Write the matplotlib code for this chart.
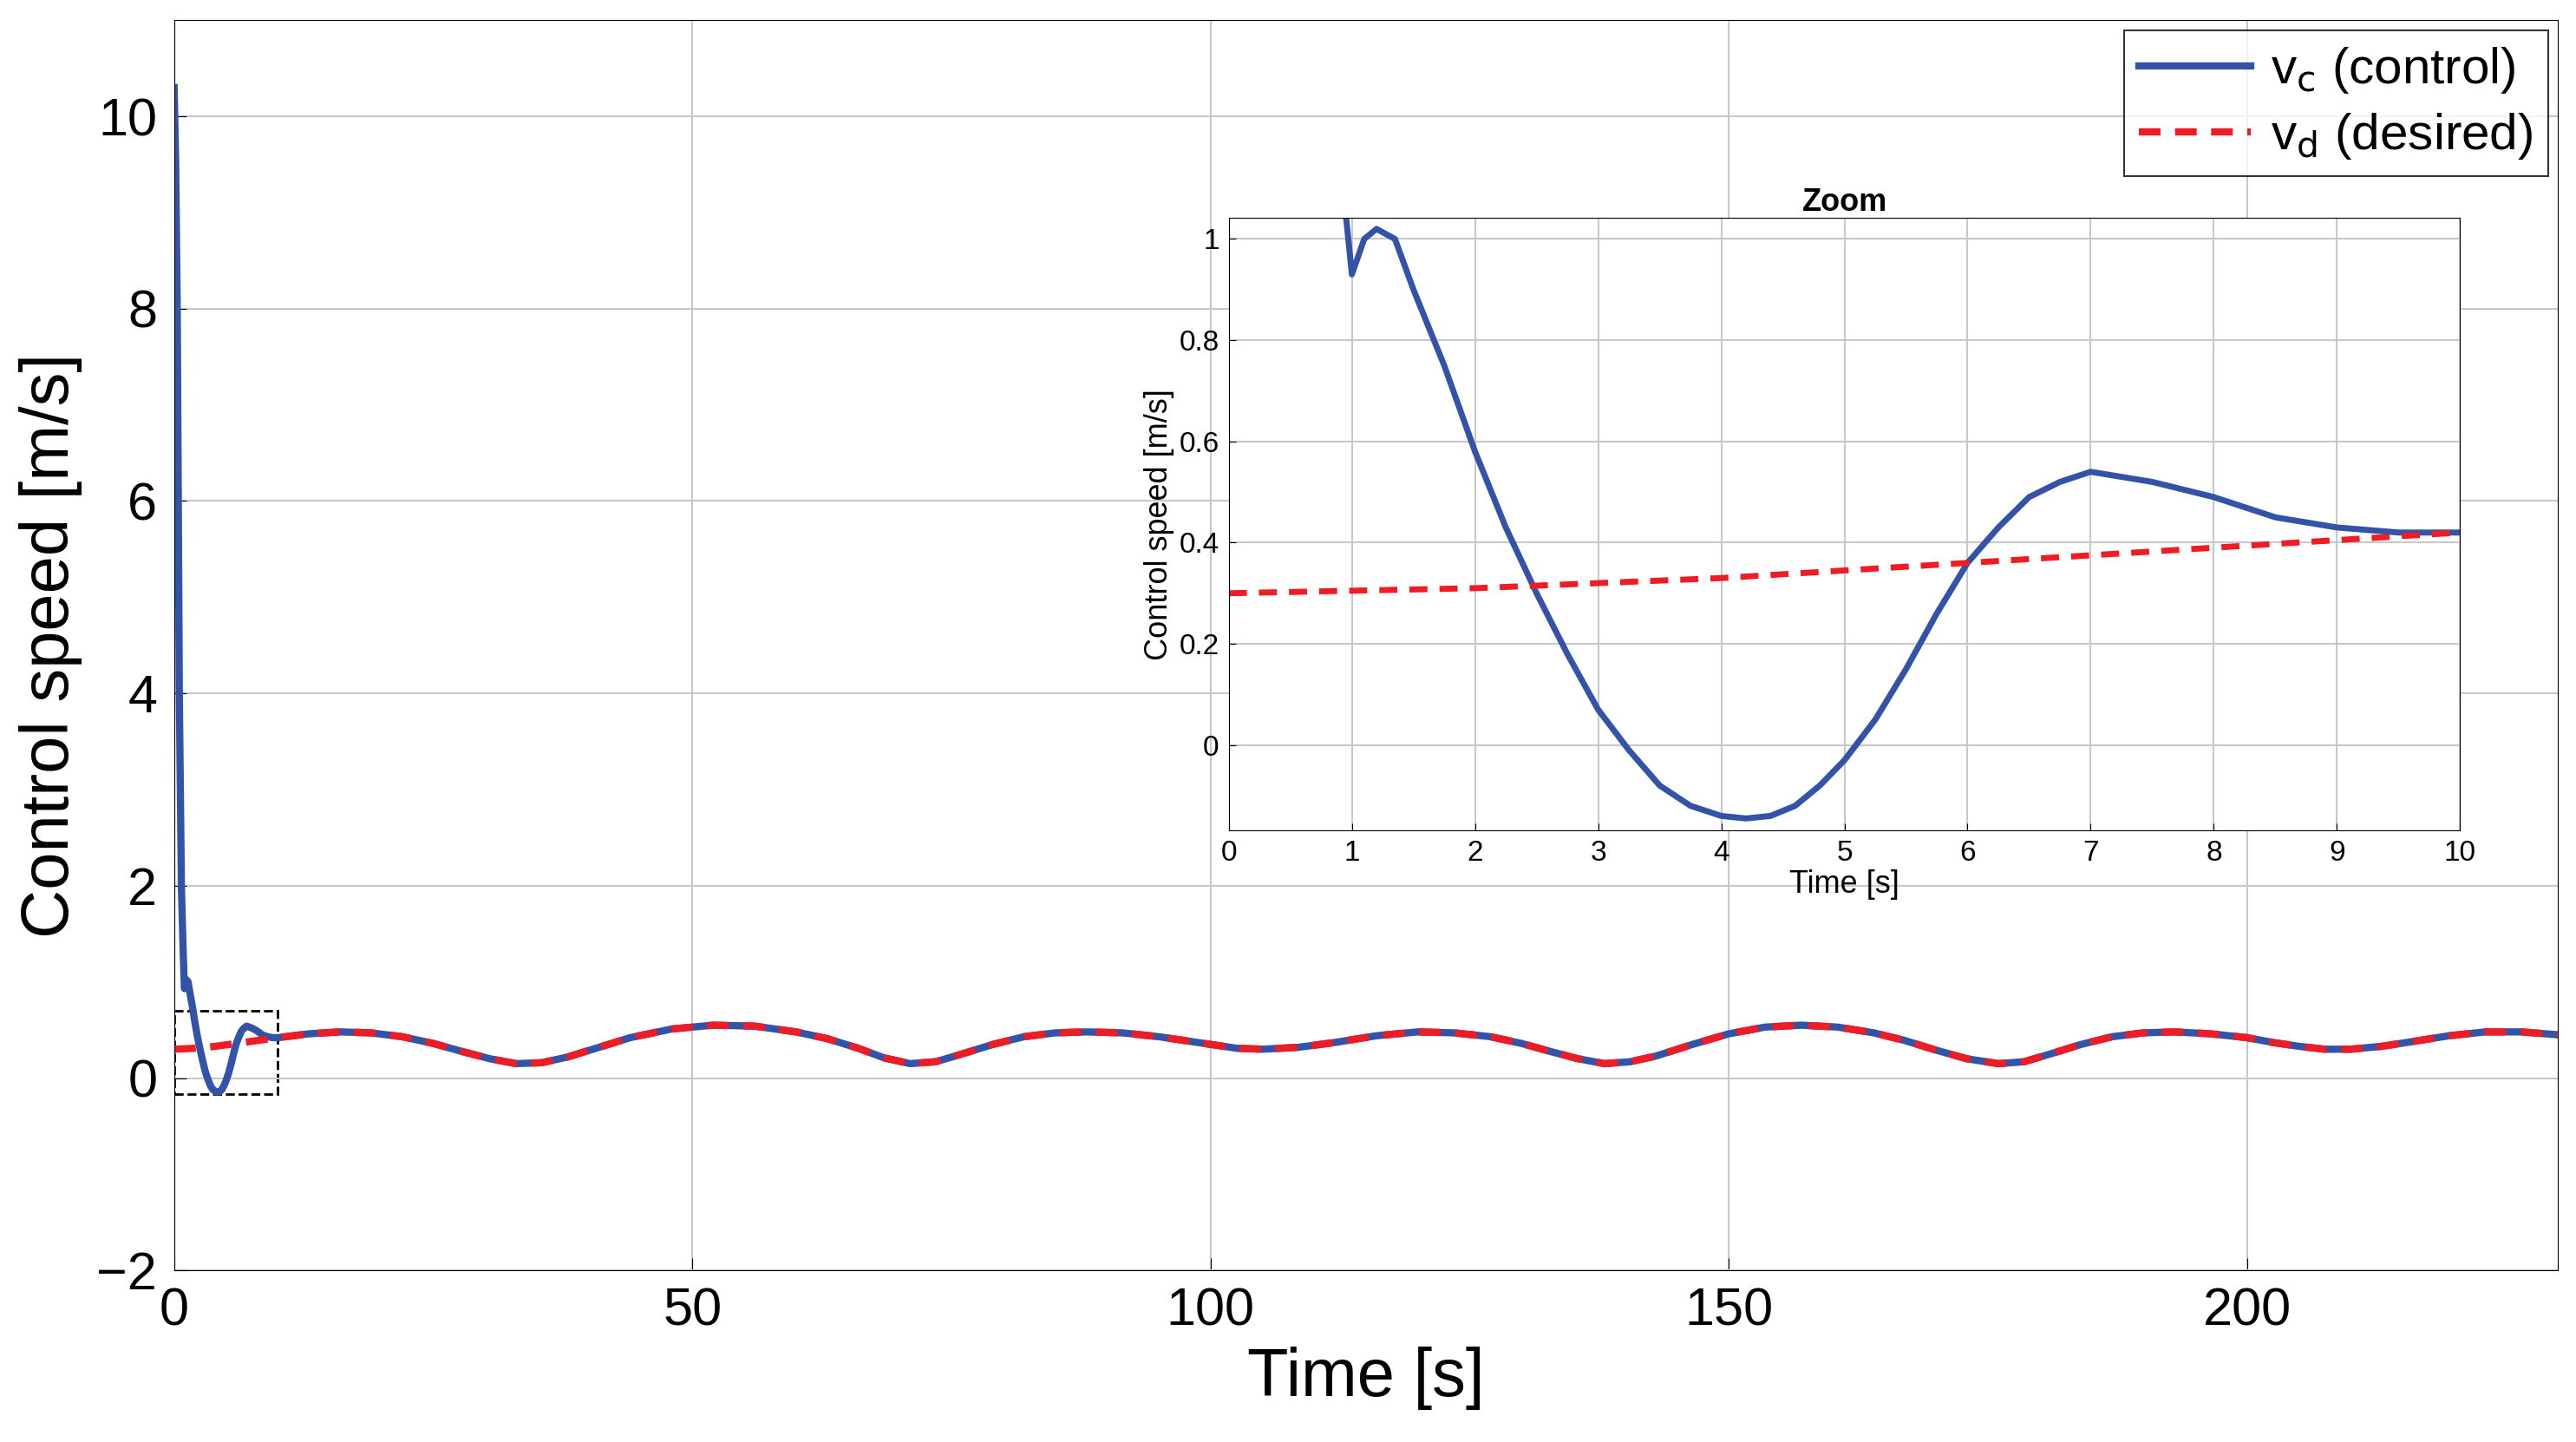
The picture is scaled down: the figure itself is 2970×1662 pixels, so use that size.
import numpy as np
import matplotlib
matplotlib.use("Agg")
import matplotlib.pyplot as plt
from matplotlib.patches import Rectangle

plt.rcParams['font.family'] = ['Liberation Sans', 'DejaVu Sans']

# desired speed
t_des = [0, 2, 4, 6, 8, 10, 13, 16, 19, 22, 25, 28, 30.5, 33, 35.5, 38, 41, 44, 48, 52, 56, 60,
         63, 66, 68.5, 71, 73.5, 76, 79, 82, 85, 88, 91.5, 95, 97.5, 100, 102.5, 105,
         108.5, 112, 116, 120, 123.5, 127, 130, 133, 135.5, 138, 140.5, 143, 146.5, 150,
         153.5, 157, 160.5, 164, 167, 170, 173, 176, 178.5, 181, 184, 187, 190, 193,
         196.5, 200, 202.5, 205, 207.5, 210, 213, 216, 219.5, 223, 226.5, 230]
v_des = [0.30, 0.31, 0.33, 0.36, 0.39, 0.42, 0.46, 0.48, 0.47, 0.43, 0.36, 0.27, 0.20, 0.15,
         0.16, 0.22, 0.32, 0.42, 0.51, 0.55, 0.54, 0.48, 0.41, 0.31, 0.21, 0.15, 0.17, 0.25,
         0.35, 0.43, 0.47, 0.48, 0.47, 0.43, 0.39, 0.35, 0.31, 0.30, 0.32, 0.37, 0.44, 0.48,
         0.47, 0.43, 0.36, 0.27, 0.20, 0.15, 0.17, 0.23, 0.35, 0.46, 0.53, 0.55, 0.53, 0.47,
         0.39, 0.29, 0.20, 0.15, 0.17, 0.25, 0.35, 0.43, 0.47, 0.48, 0.46, 0.42, 0.37, 0.33,
         0.30, 0.30, 0.33, 0.38, 0.44, 0.48, 0.48, 0.45]

# control speed, first 10 s (after that it follows the desired speed)
t_ctl = [0, 0.15, 0.3, 0.5, 0.7, 0.85, 0.95, 1.0, 1.1, 1.2, 1.35, 1.5, 1.75, 2.0, 2.25, 2.5,
         2.75, 3.0, 3.25, 3.5, 3.75, 4.0, 4.2, 4.4, 4.6, 4.8, 5.0, 5.25, 5.5, 5.75, 6.0, 6.25,
         6.5, 6.75, 7.0, 7.5, 8.0, 8.5, 9.0, 9.5, 10]
v_ctl = [10.3, 9.5, 8.0, 4.0, 2.0, 1.4, 1.05, 0.93, 1.0, 1.02, 1.0, 0.9, 0.75, 0.58, 0.43, 0.30,
         0.18, 0.07, -0.01, -0.08, -0.12, -0.14, -0.145, -0.14, -0.12, -0.08, -0.03, 0.05, 0.15,
         0.26, 0.36, 0.43, 0.49, 0.52, 0.54, 0.52, 0.49, 0.45, 0.43, 0.42, 0.42]
t_full = t_ctl + t_des[6:]
v_full = v_ctl + v_des[6:]

blue = '#3353a8'
red = '#ee1c25'

fig = plt.figure(figsize=(29.7, 16.62), dpi=100)
ax = fig.add_axes([0.0676, 0.119, 0.9254, 0.867])
ax.plot(t_full, v_full, color=blue, lw=6, label=r'v$_{\rm c}$ (control)')
ax.plot(t_des, v_des, color=red, lw=6, ls=(0, (3, 2)), label=r'v$_{\rm d}$ (desired)')
ax.add_patch(Rectangle((0, -0.17), 10, 0.87, fill=False, ls='--', lw=2, color='k'))
ax.set_xlim(0, 230)
ax.set_ylim(-2, 11)
ax.set_yticks([-2, 0, 2, 4, 6, 8, 10])
ax.set_yticklabels(['\u22122', '0', '2', '4', '6', '8', '10'])
ax.grid(True, color='#c8c8c8', lw=1.5)
ax.tick_params(labelsize=44, direction='in', length=10, pad=14)
ax.set_xlabel('Time [s]', fontsize=56, labelpad=8)
ax.set_ylabel('Control speed [m/s]', fontsize=56, labelpad=12)
leg = ax.legend(loc='upper right', fontsize=42, fancybox=False, edgecolor='k',
                borderaxespad=0.2, handlelength=2.2, handletextpad=0.4,
                borderpad=0.3, labelspacing=0.3)
leg.get_frame().set_linewidth(1.5)

ins = fig.add_axes([0.477, 0.424, 0.478, 0.425])
ins.plot(t_ctl, v_ctl, color=blue, lw=5)
ins.plot(t_des[:6], v_des[:6], color=red, lw=5, ls=(0, (3, 2)))
ins.set_xlim(0, 10)
ins.set_ylim(-0.169, 1.042)
ins.set_xticks(range(11))
ins.set_yticks([0, 0.2, 0.4, 0.6, 0.8, 1])
ins.set_yticklabels(['0', '0.2', '0.4', '0.6', '0.8', '1'])
ins.grid(True, color='#c8c8c8', lw=1.5)
ins.tick_params(labelsize=24, direction='in', length=6, pad=8)
ins.set_xlabel('Time [s]', fontsize=26, labelpad=2)
ins.set_ylabel('Control speed [m/s]', fontsize=26, labelpad=4)
ins.set_title('Zoom', fontsize=26, fontweight='bold', pad=6)

fig.savefig('out.png', dpi=100)
